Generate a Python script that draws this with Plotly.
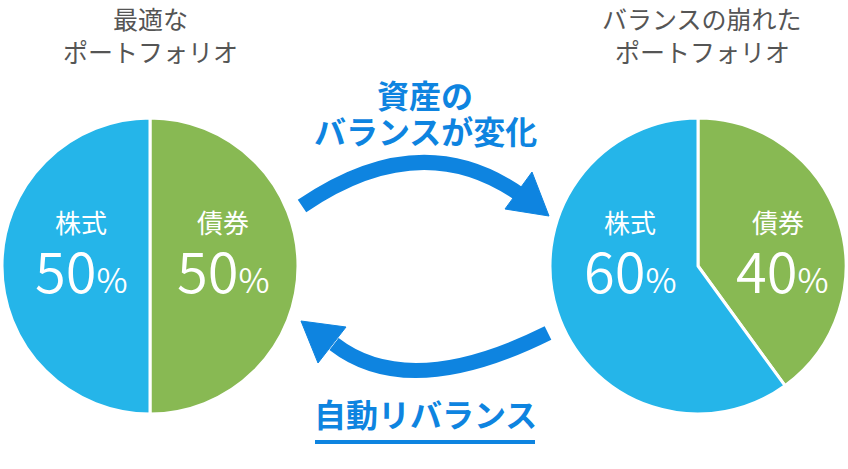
import plotly.graph_objects as go

# ---- data ----
categories = ["債券", "株式"]
optimal_values = [50, 50]
unbalanced_values = [40, 60]
slice_colors = ["#88B953", "#25B5E9"]
title_left = ["最適な", "ポートフォリオ"]
title_right = ["バランスの崩れた", "ポートフォリオ"]
arrow_top_text = ["資産の", "バランスが変化"]
arrow_bottom_text = "自動リバランス"

W, H = 848, 469
FONT = "Noto Sans CJK JP"
GRAY = "#555555"
ARROW = "#0E84E0"

fig = go.Figure()

def px_domain(x0, x1, y0, y1):
    return dict(x=[x0 / W, x1 / W], y=[(H - y1) / H, (H - y0) / H])

for vals, dom in [(optimal_values, px_domain(2, 298, 118, 414)),
                  (unbalanced_values, px_domain(550, 846, 118, 414))]:
    fig.add_trace(go.Pie(
        labels=categories, values=vals, sort=False, direction="clockwise",
        rotation=0, textinfo="none", hoverinfo="label+percent",
        marker=dict(colors=slice_colors, line=dict(color="white", width=3)),
        domain=dom, showlegend=False,
    ))

ann = []
def add_text(x, y, text, size, color, bold=False, weight=None):
    f = dict(family=FONT, size=size, color=color)
    if weight:
        f["weight"] = weight
    ann.append(dict(x=x, y=y, xref="x", yref="y", text=f"<b>{text}</b>" if bold else text,
                    showarrow=False, xanchor="center", yanchor="middle", font=f))

# titles
add_text(150, 18, title_left[0], 25, GRAY)
add_text(150, 51, title_left[1], 25, GRAY)
add_text(702, 18, title_right[0], 25, GRAY)
add_text(702, 51, title_right[1], 25, GRAY)

def pct(v):
    return f"{v}<span style='font-size:34px'>%</span>"

# left pie: stocks left, bonds right
add_text(81, 221, categories[1], 26, "white")
add_text(81, 268, pct(optimal_values[1]), 56, "white", weight=350)
add_text(223, 221, categories[0], 26, "white")
add_text(223, 268, pct(optimal_values[0]), 56, "white", weight=350)
# right pie
add_text(630, 221, categories[1], 26, "white")
add_text(630, 268, pct(unbalanced_values[1]), 56, "white", weight=350)
add_text(778, 221, categories[0], 26, "white")
add_text(782, 268, pct(unbalanced_values[0]), 56, "white", weight=350)

# arrow labels
add_text(425, 94, arrow_top_text[0], 32, ARROW, bold=True)
add_text(425, 130, arrow_top_text[1], 32, ARROW, bold=True)
add_text(425, 413, arrow_bottom_text, 32, ARROW, bold=True)

shapes = [
    dict(type="path", xref="x", yref="y", path="M 302,206 Q 422,124 522,196",
         line=dict(color=ARROW, width=15), fillcolor="rgba(0,0,0,0)"),
    dict(type="path", xref="x", yref="y", path="M 549,216 L 532,172 L 505,209 Z",
         line=dict(color=ARROW, width=1), fillcolor=ARROW),
    dict(type="path", xref="x", yref="y", path="M 548,333 Q 409,402 334,344",
         line=dict(color=ARROW, width=15), fillcolor="rgba(0,0,0,0)"),
    dict(type="path", xref="x", yref="y", path="M 301,321 L 346,327 L 318,363 Z",
         line=dict(color=ARROW, width=1), fillcolor=ARROW),
    dict(type="rect", xref="x", yref="y", x0=315, x1=535, y0=440, y1=444,
         line=dict(width=0), fillcolor=ARROW),
]

fig.update_layout(
    width=W, height=H, margin=dict(l=0, r=0, t=0, b=0),
    paper_bgcolor="white", plot_bgcolor="rgba(0,0,0,0)",
    xaxis=dict(range=[0, W], visible=False, fixedrange=True),
    yaxis=dict(range=[H, 0], visible=False, fixedrange=True),
    annotations=ann, shapes=shapes,
)
fig.write_html("out.html", config={"displayModeBar": False},
               post_script="document.body.style.margin='0';document.body.style.overflow='hidden';")
